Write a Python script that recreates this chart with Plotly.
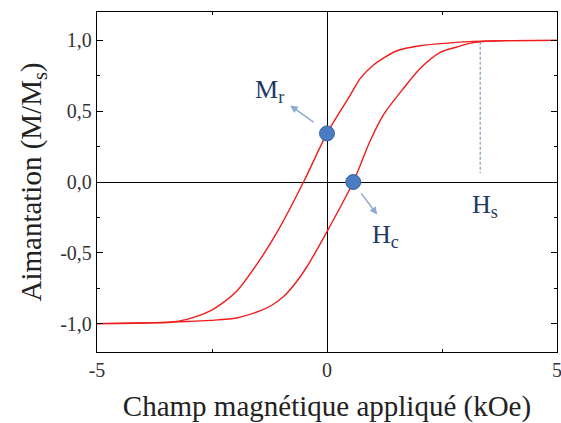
import plotly.graph_objects as go

# Descending branch of the hysteresis loop (field swept from +5 to -5 kOe)
h_down = [5.0, 4.0, 3.17, 2.75, 2.02, 1.55, 1.26, 1.01, 0.72, 0.5, 0.0, -0.51, -1.06, -1.46, -1.96, -2.25, -2.54, -3.05, -3.41, -4.0, -5.0]
m_down = [1.0, 0.998, 0.993, 0.984, 0.962, 0.93, 0.882, 0.826, 0.73, 0.61, 0.343, 0.0, -0.34, -0.55, -0.77, -0.85, -0.91, -0.97, -0.99, -0.995, -1.0]

# Ascending branch (field swept from -5 to +5 kOe)
h_up = [-5.0, -4.0, -3.05, -2.54, -1.96, -1.46, -1.2, -0.95, -0.7, -0.44, 0.0, 0.57, 0.93, 1.22, 1.66, 2.02, 2.46, 2.82, 3.18, 3.6, 4.0, 5.0]
m_up = [-1.0, -0.995, -0.985, -0.977, -0.96, -0.91, -0.87, -0.81, -0.72, -0.60, -0.35, 0.0, 0.284, 0.47, 0.66, 0.80, 0.915, 0.953, 0.984, 0.995, 0.998, 1.0]

# Characteristic points
mr_value = 0.343   # remanent magnetisation (M/Ms at H = 0)
hc_value = 0.57    # coercive field (kOe)
hs_value = 3.33    # saturation field (kOe)
hs_line_m = [0.99, 0.063]

x_tickvals = [-5, 0, 5]
x_ticktext = ["-5", "0", "5"]
x_minor = [-2.5, 2.5]
y_tickvals = [-1.0, -0.5, 0.0, 0.5, 1.0]
y_ticktext = ["-1,0", "-0,5", "0,0", "0,5", "1,0"]
y_minor = [-0.75, -0.25, 0.25, 0.75]

SERIF = "Liberation Serif"
RED = "#f01c1c"
BLUE = "#4a7cc2"
NAVY = "#1f3a66"
ARROW = "#8eaad0"

fig = go.Figure()

branch_line = dict(color=RED, width=1.4, shape="spline", smoothing=0.8)
fig.add_trace(go.Scatter(x=h_down, y=m_down, mode="lines", line=branch_line, hoverinfo="skip"))
fig.add_trace(go.Scatter(x=h_up, y=m_up, mode="lines", line=branch_line, hoverinfo="skip"))

# Saturation field marker line
fig.add_trace(go.Scatter(x=[hs_value, hs_value], y=hs_line_m, mode="lines",
                         line=dict(color="#5f86b8", width=1, dash="3px,2px"),
                         hoverinfo="skip"))

# Remanence and coercivity points
fig.add_trace(go.Scatter(x=[0.0, hc_value], y=[mr_value, 0.0], mode="markers",
                         marker=dict(size=15, color=BLUE,
                                     line=dict(color="#3a62a0", width=1)),
                         hoverinfo="skip"))

axis_common = dict(
    showgrid=False, automargin=False,
    showline=True, linecolor="black", linewidth=1.3, mirror="ticks",
    ticks="inside", ticklen=6, tickwidth=1, tickcolor="black",
    zeroline=True, zerolinecolor="black", zerolinewidth=1.3,
    ticklabeloverflow="allow",
    tickfont=dict(family=SERIF, size=20, color="#333333"),
)

fig.update_layout(
    width=561, height=423,
    margin=dict(l=97, r=4, t=12, b=71),
    paper_bgcolor="white", plot_bgcolor="white",
    showlegend=False,
    font=dict(family=SERIF),
    xaxis=dict(range=[-5, 5], tickmode="array", tickvals=x_tickvals, ticktext=x_ticktext,
               minor=dict(tickmode="array", tickvals=x_minor, ticks="inside", ticklen=3,
                          tickcolor="black", tickwidth=1),
               title=dict(text="Champ magnétique appliqué (kOe)",
                          font=dict(family=SERIF, size=29, color="#222222"), standoff=17),
               **axis_common),
    yaxis=dict(range=[-1.2, 1.2], tickmode="array", tickvals=y_tickvals, ticktext=y_ticktext,
               minor=dict(tickmode="array", tickvals=y_minor, ticks="inside", ticklen=3,
                          tickcolor="black", tickwidth=1),
               title=dict(text="Aimantation (M/M<sub>s</sub>)",
                          font=dict(family=SERIF, size=29, color="#222222"), standoff=10),
               **axis_common),
)

# Arrows pointing away from the characteristic points
fig.add_annotation(x=-0.80, y=0.54, ax=-0.26, ay=0.415, xref="x", yref="y",
                   axref="x", ayref="y", text="", showarrow=True,
                   arrowhead=2, arrowsize=1, arrowwidth=1.5, arrowcolor=ARROW)
fig.add_annotation(x=1.09, y=-0.23, ax=0.72, ay=-0.07, xref="x", yref="y",
                   axref="x", ayref="y", text="", showarrow=True,
                   arrowhead=2, arrowsize=1, arrowwidth=1.5, arrowcolor=ARROW)

label_font = dict(family=SERIF, size=26, color=NAVY)
fig.add_annotation(x=-1.24, y=0.64, text="M<sub>r</sub>", showarrow=False, font=label_font)
fig.add_annotation(x=1.28, y=-0.38, text="H<sub>c</sub>", showarrow=False, font=label_font)
fig.add_annotation(x=3.43, y=-0.17, text="H<sub>s</sub>", showarrow=False, font=label_font)

fig.write_html("out.html")
